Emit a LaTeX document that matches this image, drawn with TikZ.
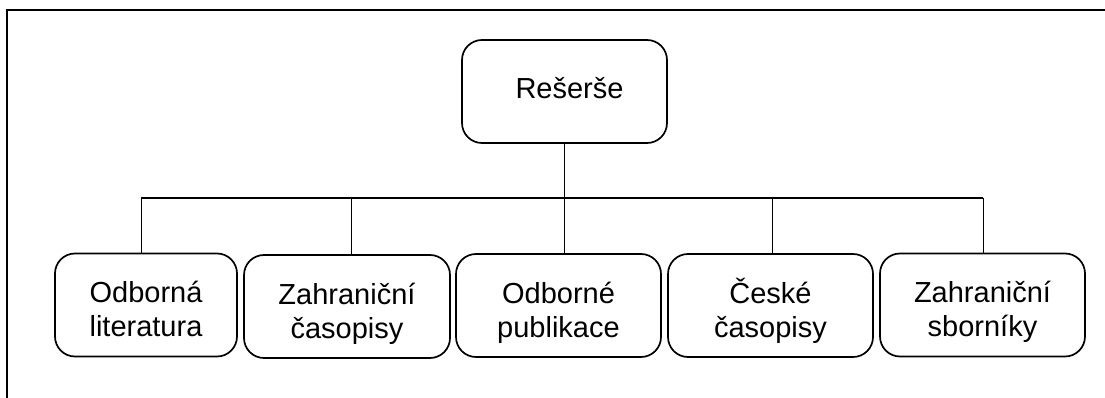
\documentclass[tikz,border=0pt]{standalone}
\usepackage{fontspec}
\setmainfont{Liberation Sans}
\begin{document}
\begin{tikzpicture}[x=1pt,y=-1pt,
  box/.style={draw, line width=1.7pt, rounded corners=20pt, minimum height=103pt,
    inner sep=0pt, align=center, font=\fontsize{29}{34}\selectfont,
    text height=63pt, text depth=0pt},
  topbox/.style={box, text height=20pt, text depth=5pt},
  conn/.style={line width=1pt},
  busline/.style={line width=1.6pt},
  frame/.style={line width=2pt}]
\useasboundingbox (0,0) rectangle (1105,398);
\draw[frame] (7,398) -- (7,10) -- (1106,10);
\node[topbox, minimum width=205pt] (top) at (564.5,91.5) {\hspace*{10pt}Rešerše};
\node[box, minimum width=182pt] (b1) at (146,305) {Odborná\\literatura};
\node[box, minimum width=206pt] (b2) at (347,306.5) {Zahraniční\\časopisy};
\node[box, minimum width=205pt] (b3) at (558.5,305.5) {Odborné\\publikace};
\node[box, minimum width=205pt] (b4) at (770.5,305.5) {České\\časopisy};
\node[box, minimum width=205pt] (b5) at (982.5,305) {Zahraniční\\sborníky};
\coordinate (bL) at (141,198);
\coordinate (bR) at (983,198);
\coordinate (c2) at (351,198);
\coordinate (c4) at (772,198);
\draw[busline] (bL) -- (bR);
\draw[conn] (top.south) -- (top.south |- b3.north);
\draw[conn] (bL) -- (bL |- b1.north);
\draw[conn] (c2) -- (c2 |- b2.north);
\draw[conn] (c4) -- (c4 |- b4.north);
\draw[conn] (bR) -- (bR |- b5.north);
\end{tikzpicture}
\end{document}
